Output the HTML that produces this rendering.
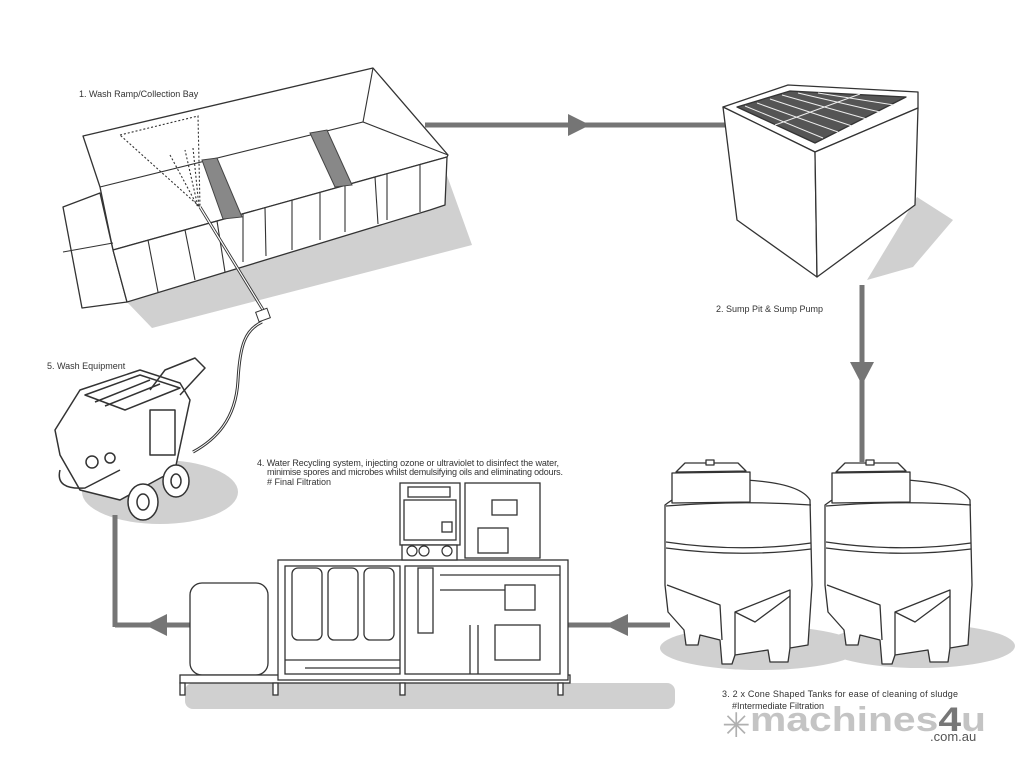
<!DOCTYPE html>
<html><head><style>
body{margin:0;background:#fff;}
svg{display:block;font-family:"Liberation Sans",sans-serif;}
text{font-size:9px;fill:#333;}
</style></head><body>
<svg width="1024" height="768" viewBox="0 0 1024 768" xmlns="http://www.w3.org/2000/svg">
<g fill="#d0d0d0" stroke="none">
<polygon points="127,302 445,170 472,245 152,328"/>
<polygon points="867,280 917,197 953,220 913,267"/>
<ellipse cx="160" cy="492" rx="78" ry="32"/>
<ellipse cx="760" cy="648" rx="100" ry="22"/>
<ellipse cx="920" cy="646" rx="95" ry="22"/>
<rect x="185" y="683" width="490" height="26" rx="8"/>
</g>
<g stroke="#757575" stroke-width="5" fill="none">
<line x1="425" y1="125" x2="725" y2="125"/>
<line x1="862" y1="285" x2="862" y2="462"/>
<line x1="670" y1="625" x2="555" y2="625"/>
<line x1="190" y1="625" x2="115" y2="625"/>
<line x1="115" y1="515" x2="115" y2="627"/>
</g>
<g fill="#757575">
<polygon points="590,125 568,114 568,136"/>
<polygon points="862,385 850,362 874,362"/>
<polygon points="605,625 628,614 628,636"/>
<polygon points="145,625 167,614 167,636"/>
</g>
<!-- wash bay -->
<g stroke="#333" stroke-width="1.3" fill="#fff" stroke-linejoin="round">
<polygon points="83,136 373,68 448,155 447,157 113,250 100,187"/>
<polygon points="63,207 100,193 113,250 127,302 82,308"/>
<polygon points="113,250 447,157 445,205 430,210 127,302"/>
</g>
<g stroke="#333" stroke-width="1.1" fill="none">
<line x1="63" y1="252" x2="113" y2="243"/>
<polyline points="100,187 363,122 448,155"/>
<line x1="373" y1="68" x2="363" y2="122"/>
<line x1="148" y1="240" x2="158" y2="292"/>
<line x1="185" y1="230" x2="195" y2="280"/>
<line x1="217" y1="221" x2="225" y2="272"/>
<line x1="243" y1="214" x2="243" y2="262"/>
<line x1="265" y1="208" x2="266" y2="256"/>
<line x1="292" y1="200" x2="292" y2="250"/>
<line x1="320" y1="192" x2="320" y2="240"/>
<line x1="345" y1="186" x2="345" y2="232"/>
<line x1="375" y1="177" x2="378" y2="224"/>
<line x1="387" y1="174" x2="387" y2="220"/>
<line x1="420" y1="165" x2="420" y2="212"/>
<polyline points="120,135 198,116 200,207 120,135" stroke-dasharray="2,2"/>
<polyline points="170,155 198,207 185,150" stroke-dasharray="2,2"/>
<polyline points="193,148 199,207" stroke-dasharray="2,2"/>
</g>
<g stroke="#444" stroke-width="1">
<polygon points="202,160 217,158 242,217 223,219" fill="#888"/>
<polygon points="310,133 327,130 352,185 335,187" fill="#888"/>
</g>
<g fill="none" stroke="#333">
<line x1="200" y1="207" x2="268" y2="318" stroke-width="3"/>
<line x1="200" y1="207" x2="268" y2="318" stroke-width="1.2" stroke="#fff"/>
<rect x="257" y="310" width="12" height="10" fill="#fff" transform="rotate(-20 263 315)"/>
<path d="M262,322 C245,330 240,345 238,380 C236,420 215,440 193,452" stroke-width="3"/>
<path d="M262,322 C245,330 240,345 238,380 C236,420 215,440 193,452" stroke-width="1" stroke="#fff"/>
</g>
<!-- sump -->
<g stroke="#333" stroke-width="1.3" fill="#fff" stroke-linejoin="round">
<polygon points="723,107 788,85 918,92 918,108 815,152"/>
<polygon points="723,107 815,152 817,277 737,220"/>
<polygon points="815,152 918,108 915,205 817,277"/>
<polygon points="737,107 790,91 906,97 815,143" fill="#555"/>
</g>
<g stroke="#eee" stroke-width="1" fill="none">
<line x1="745" y1="106" x2="823" y2="138"/><line x1="757" y1="103" x2="838" y2="132"/>
<line x1="770" y1="99" x2="852" y2="126"/><line x1="782" y1="95" x2="867" y2="119"/>
<line x1="798" y1="93" x2="880" y2="112"/><line x1="818" y1="93" x2="894" y2="105"/>
<line x1="775" y1="125" x2="860" y2="94"/>
</g>
<!-- tanks -->
<g stroke="#333" stroke-width="1.3" fill="#fff" stroke-linejoin="round">
<g id="tank">
<path d="M665,505 Q690,485 745,480 Q800,483 810,500 L812,585 L808,645 L790,648 L788,662 L770,662 L768,650 L735,655 L732,664 L722,664 L720,640 L700,635 L698,645 L686,645 L684,630 L668,612 L665,585 Z"/>
<polygon points="672,473 750,472 750,502 672,503"/>
<polygon points="685,463 738,463 746,471 676,472"/>
<rect x="706" y="460" width="8" height="5"/>
<path d="M666,506 Q740,500 811,505" fill="none"/>
<path d="M666,542 Q740,553 811,543" fill="none"/>
<path d="M666,548 Q740,558 811,549" fill="none"/>
<path d="M667,585 L720,605 L722,640 M735,655 L735,612 L790,590 L790,648" fill="none"/>
<path d="M735,612 L755,622 L790,596" fill="none"/>
</g>
<use href="#tank" transform="translate(160,0)"/>
</g>
<!-- recycling unit -->
<g stroke="#333" stroke-width="1.3" fill="#fff">
<rect x="190" y="583" width="78" height="92" rx="12"/>
<rect x="180" y="675" width="390" height="8"/>
<rect x="180" y="683" width="5" height="12"/><rect x="273" y="683" width="5" height="12"/><rect x="400" y="683" width="5" height="12"/><rect x="558" y="683" width="5" height="12"/>
<rect x="278" y="560" width="290" height="120"/>
<rect x="285" y="566" width="115" height="108"/>
<rect x="405" y="566" width="155" height="108"/>
<rect x="292" y="568" width="30" height="72" rx="6"/><rect x="328" y="568" width="30" height="72" rx="6"/><rect x="364" y="568" width="30" height="72" rx="6"/>
<rect x="400" y="483" width="60" height="62"/><rect x="408" y="487" width="42" height="10"/><rect x="404" y="500" width="52" height="40"/><rect x="442" y="522" width="10" height="10"/>
<rect x="402" y="545" width="55" height="15"/>
<rect x="465" y="483" width="75" height="75"/><rect x="492" y="500" width="25" height="15"/><rect x="478" y="528" width="30" height="25"/>
<rect x="505" y="585" width="30" height="25"/><rect x="495" y="625" width="45" height="35"/>
<rect x="418" y="568" width="15" height="65"/>
<line x1="440" y1="575" x2="560" y2="575"/><line x1="440" y1="590" x2="505" y2="590"/>
<line x1="285" y1="660" x2="400" y2="660"/><line x1="305" y1="668" x2="400" y2="668"/>
<line x1="470" y1="625" x2="470" y2="674"/><line x1="478" y1="625" x2="478" y2="674"/>
</g>
<g fill="none" stroke="#333" stroke-width="1.2"><circle cx="412" cy="551" r="5"/><circle cx="424" cy="551" r="5"/><circle cx="447" cy="551" r="5"/></g>
<!-- pressure washer -->
<g stroke="#333" stroke-width="1.5" fill="#fff" stroke-linejoin="round">
<path d="M60,455 L55,430 L80,390 L140,370 L180,383 L190,400 L175,470 L120,500 L80,490 Z"/>
<polygon points="85,395 140,375 180,388 125,410"/>
<line x1="95" y1="402" x2="150" y2="380"/><line x1="105" y1="406" x2="160" y2="384"/>
<path d="M150,390 L165,370 L195,358 L205,368 L180,395" fill="none"/>
<rect x="150" y="410" width="25" height="45"/>
<path d="M60,470 Q55,490 85,488 L120,470" fill="none"/>
<ellipse cx="143" cy="502" rx="15" ry="18"/><ellipse cx="143" cy="502" rx="6" ry="8"/>
<ellipse cx="176" cy="481" rx="13" ry="16"/><ellipse cx="176" cy="481" rx="5" ry="7"/>
<circle cx="92" cy="462" r="6"/><circle cx="110" cy="458" r="5"/>
</g>
<!-- text -->
<text x="79" y="97">1.  Wash Ramp/Collection Bay</text>
<text x="716" y="312">2. Sump Pit &amp; Sump Pump</text>
<text x="47" y="369">5. Wash Equipment</text>
<text x="257" y="466" textLength="302">4. Water Recycling system, injecting ozone or ultraviolet to disinfect the water,</text>
<text x="267" y="475" textLength="296">minimise spores and microbes whilst demulsifying oils and eliminating odours.</text>
<text x="267" y="485"># Final Filtration</text>
<text x="722" y="697" textLength="236">3. 2 x Cone Shaped Tanks for ease of cleaning of sludge</text>
<text x="732" y="709">#Intermediate Filtration</text>
<text x="750" y="731" textLength="236" lengthAdjust="spacingAndGlyphs" style="font-size:34px;font-weight:bold;fill:#c4c4c4">machines<tspan fill="#777">4</tspan>u</text>
<text x="930" y="741" style="font-size:13px;fill:#555">.com.au</text>
<text x="722" y="737" style="font-size:34px;fill:#b0b0b0">✳</text>
</svg>
</body></html>
